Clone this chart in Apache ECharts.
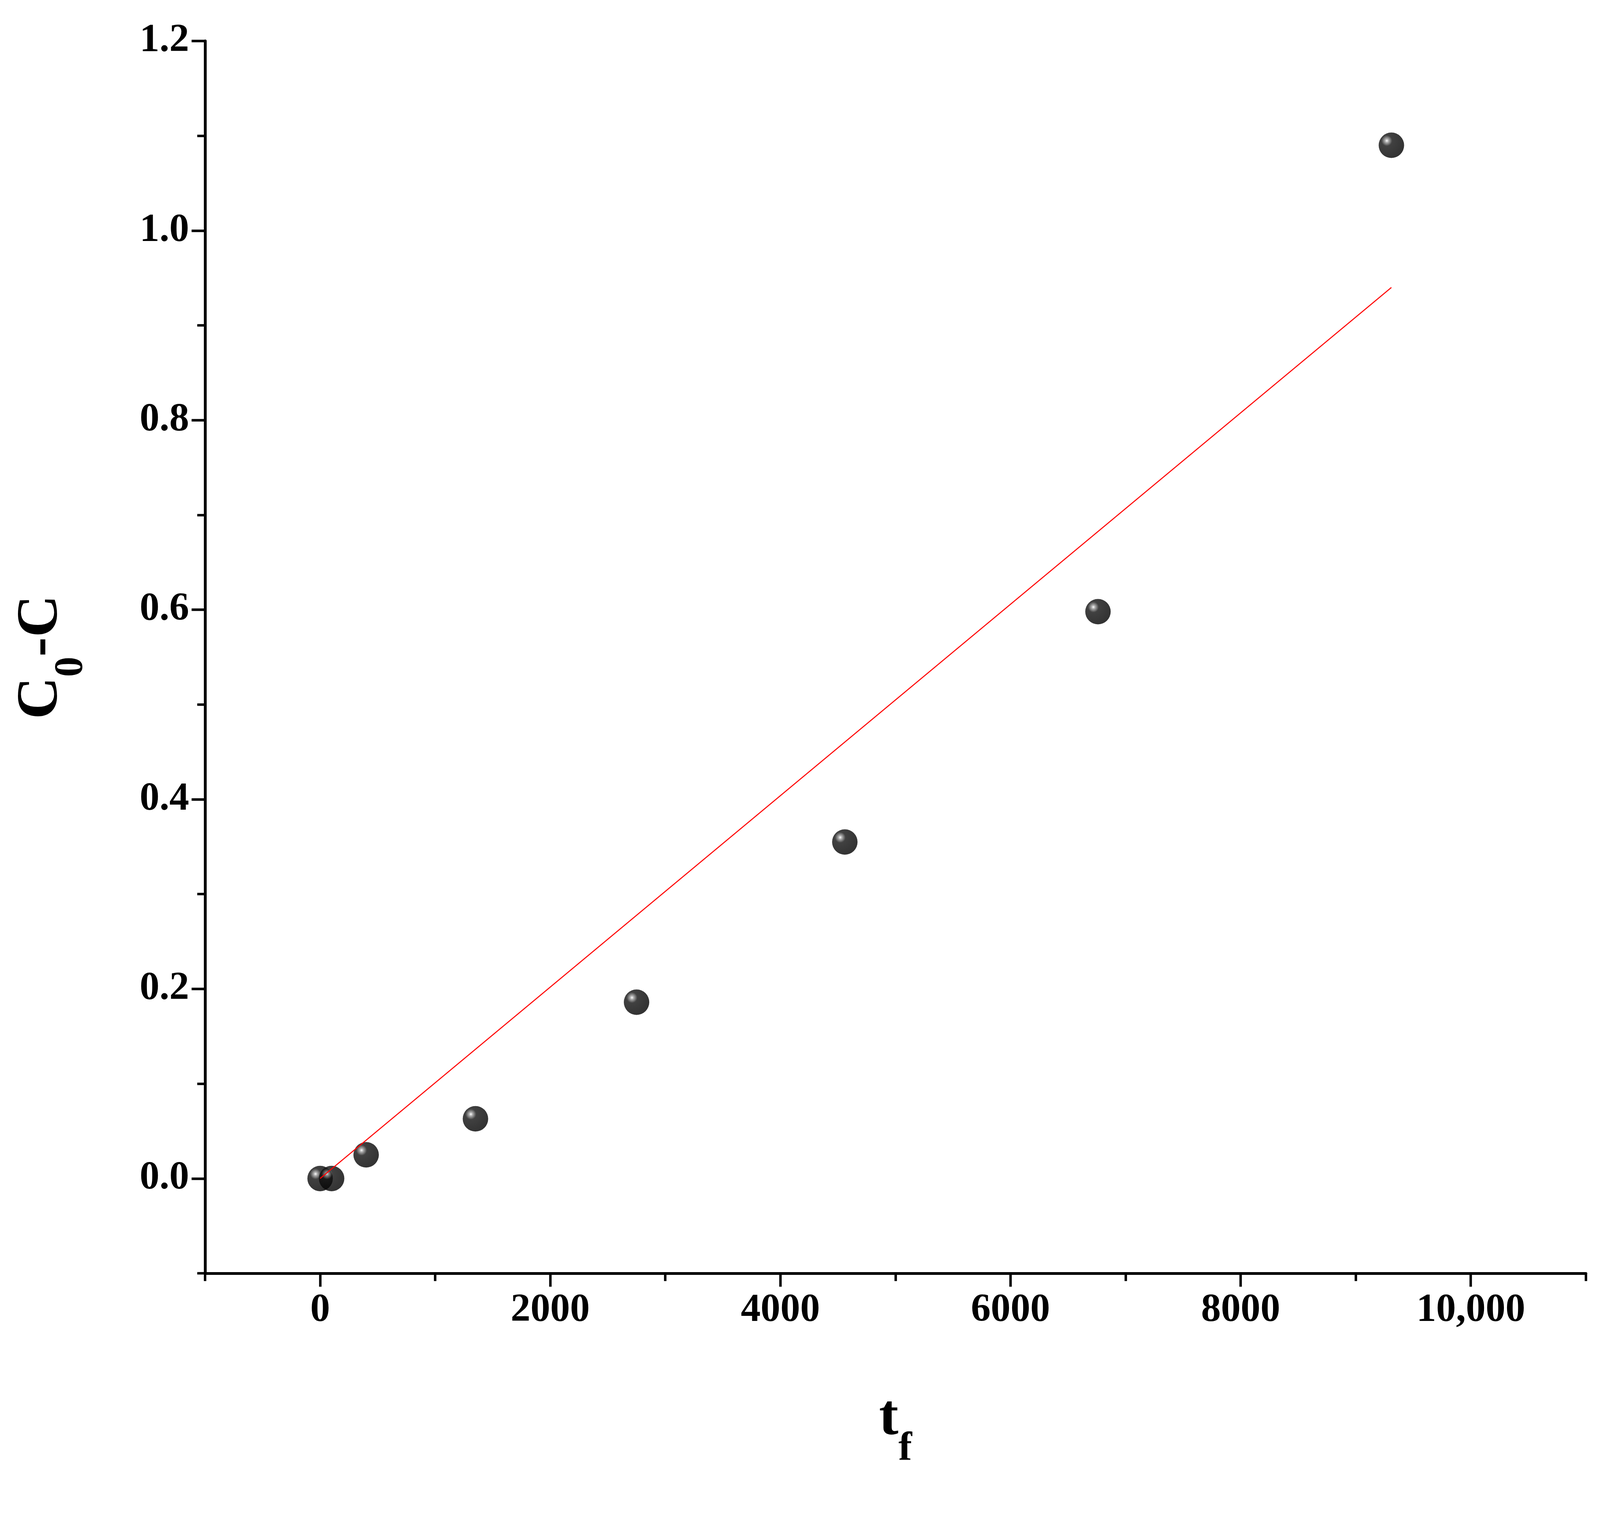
<!DOCTYPE html><html><head><meta charset="utf-8">
<script src="https://cdn.jsdelivr.net/npm/echarts@6/dist/echarts.min.js"></script>
<style>html,body{margin:0;padding:0;background:#fff;overflow:hidden}#c{width:100vw;height:100vh}</style></head><body><div id="c"></div><script>
const tf=[0,100,400,1350,2750,4560,6760,9310];
const dC=[0,0,0.025,0.063,0.186,0.355,0.598,1.09];
const fitX=[0,9310];
const fitY=[0,0.94];
const xMajor=[0,2000,4000,6000,8000,10000];
const xMinor=[-1000,1000,3000,5000,7000,9000,11000];
const yMajor=[0,0.2,0.4,0.6,0.8,1.0,1.2];
const yMinor=[-0.1,0.1,0.3,0.5,0.7,0.9,1.1];
const s=window.innerWidth/4526;
const F='"Liberation Serif","DejaVu Serif",serif';
const lbl={fontFamily:F,fontWeight:'bold',fontSize:112*s,color:'#000'};
function ax(type,major,minor,min,max,fmt,name,second){
  const base={min,max,type:'value',splitLine:{show:false},position:type==='x'?'bottom':'left',offset:0};
  if(second) return Object.assign(base,{axisLine:{show:false,onZero:false},axisLabel:{show:false},
    axisTick:{show:true,inside:false,length:22*s,customValues:minor,lineStyle:{color:'#000',width:7*s}}});
  return Object.assign(base,{axisLine:{onZero:false,lineStyle:{color:'#000',width:8*s}},
    axisTick:{show:true,length:38*s,customValues:major,lineStyle:{color:'#000',width:7*s}},
    axisLabel:Object.assign({customValues:major,formatter:fmt,margin:(type==='x'?50:45)*s},lbl),
    name,nameLocation:'middle',nameGap:(type==='x'?330:380)*s,
    nameTextStyle:{fontFamily:F,fontWeight:'bold',fontSize:165*s,color:'#000',
      rich:{s:{fontFamily:F,fontWeight:'bold',fontSize:115*s,verticalAlign:'bottom',padding:[0,0,-60*s,0]}}}});
}
const ch=echarts.init(document.getElementById('c'));
ch.setOption({animation:false,backgroundColor:'#fff',
 grid:{left:580*s,right:40*s,top:116*s,bottom:647*s*(window.innerHeight/3907)/s},
 xAxis:[ax('x',xMajor,xMinor,-1000,11000,v=>v===10000?'10,000':String(v),'t{s|f}'),
        ax('x',xMajor,xMinor,-1000,11000,null,'',true)],
 yAxis:[ax('y',yMajor,yMinor,-0.1,1.2,v=>v.toFixed(1),'C{s|0}-C'),
        ax('y',yMajor,yMinor,-0.1,1.2,null,'',true)],
 series:[
  {type:'line',data:fitX.map((x,i)=>[x,fitY[i]]),symbol:'none',lineStyle:{color:'#ff0000',width:3*s}},
  {type:'scatter',data:tf.map((x,i)=>[x,dC[i]]),symbolSize:72*s,
   itemStyle:{color:new echarts.graphic.RadialGradient(0.32,0.32,0.7,[{offset:0,color:'#ffffff'},{offset:0.1,color:'#999'},{offset:0.3,color:'#111'},{offset:1,color:'#000'}])}}
 ]});
</script></body></html>
